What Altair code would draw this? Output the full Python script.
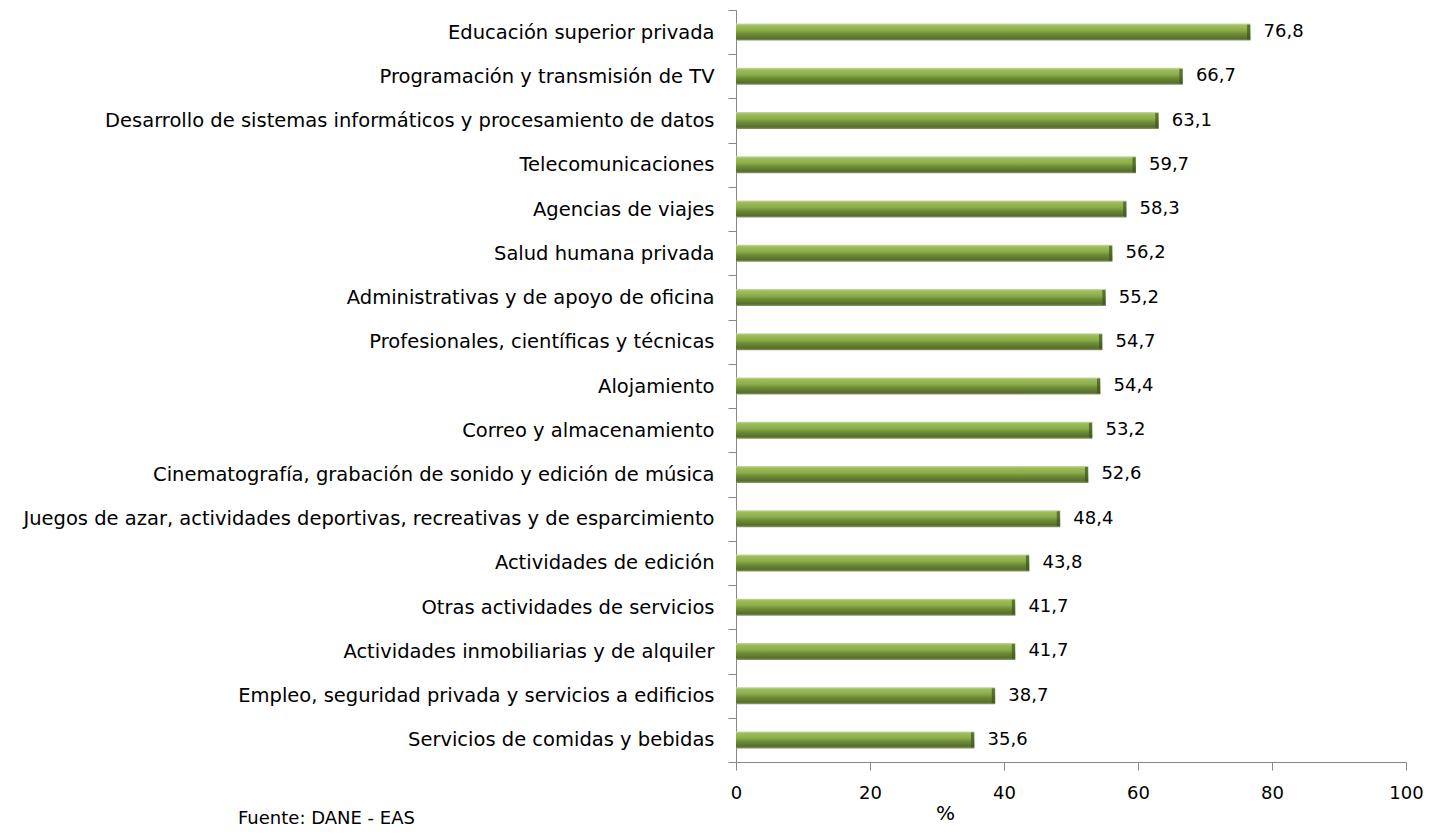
import altair as alt
import pandas as pd

categories = [
    "Educación superior privada",
    "Programación y transmisión de TV",
    "Desarrollo de sistemas informáticos y procesamiento de datos",
    "Telecomunicaciones",
    "Agencias de viajes",
    "Salud humana privada",
    "Administrativas y de apoyo de oficina",
    "Profesionales, científicas y técnicas",
    "Alojamiento",
    "Correo y almacenamiento",
    "Cinematografía, grabación de sonido y edición de música",
    "Juegos de azar, actividades deportivas, recreativas y de esparcimiento",
    "Actividades de edición",
    "Otras actividades de servicios",
    "Actividades inmobiliarias y de alquiler",
    "Empleo, seguridad privada y servicios a edificios",
    "Servicios de comidas y bebidas",
]
values = [76.8, 66.7, 63.1, 59.7, 58.3, 56.2, 55.2, 54.7, 54.4, 53.2, 52.6, 48.4, 43.8, 41.7, 41.7, 38.7, 35.6]
x_ticks = [0, 20, 40, 60, 80, 100]
source_note = ["Fuente: DANE - EAS"]

df = pd.DataFrame({"cat": categories, "val": values})
df["label"] = [f"{v:.1f}".replace(".", ",") for v in values]
note_df = pd.DataFrame({"note": source_note})

FONT = "DejaVu Sans"
FS = 18
FS_CAT = 19.5

y_enc = alt.Y("cat:N", sort=categories, title=None,
              scale=alt.Scale(paddingInner=0.0, paddingOuter=0.0),
              axis=alt.Axis(tickBand="extent", tickSize=8, tickColor="#888888",
                            domainColor="#888888", labelFontSize=FS_CAT, labelFont=FONT,
                            labelColor="#000000", labelPadding=14, labelLimit=900))
x_enc = alt.X("val:Q", title="%",
              scale=alt.Scale(domain=[0, 100], nice=False),
              axis=alt.Axis(values=x_ticks, grid=False, tickSize=8, tickColor="#888888",
                            domainColor="#888888", labelFontSize=FS, labelFont=FONT,
                            labelColor="#000000", labelPadding=14, labelFlush=False,
                            titleFont=FONT, titleFontSize=20, titleFontWeight="normal",
                            titleColor="#000000", titleX=209, titleY=41,
                            titleAlign="center", titleBaseline="top"))

grad = alt.Gradient(
    gradient="linear", x1=0, x2=0, y1=0, y2=1,
    stops=[
        alt.GradientStop(offset=0.0, color="#c9d8ae"),
        alt.GradientStop(offset=0.12, color="#9cbd5c"),
        alt.GradientStop(offset=0.4, color="#8aad48"),
        alt.GradientStop(offset=0.6, color="#6d8c36"),
        alt.GradientStop(offset=0.88, color="#566f2a"),
        alt.GradientStop(offset=1.0, color="#8a9c6a"),
    ],
)

base = alt.Chart(df)
bars = base.mark_bar(color=grad, size=17).encode(y=y_enc, x=x_enc)
caps = base.mark_tick(color="#3f5520", size=15, thickness=3, xOffset=-2).encode(
    y=alt.Y("cat:N", sort=categories), x="val:Q")
labels = base.mark_text(align="left", dx=13, fontSize=FS, font=FONT, color="#000000").encode(
    y=alt.Y("cat:N", sort=categories), x="val:Q", text="label:N")
note = alt.Chart(note_df).mark_text(align="left", baseline="top", fontSize=FS, font=FONT,
                                    color="#000000").encode(
    x=alt.value(-498), y=alt.value(800), text="note:N")

chart = (bars + caps + labels + note).properties(
    width=670, height=752,
    autosize=alt.AutoSizeParams(type="none"),
    padding={"left": 728, "top": 2, "right": 17, "bottom": 65},
).configure_view(stroke=None)

chart.save("out.html", embed_options={"renderer": "svg", "actions": False})
